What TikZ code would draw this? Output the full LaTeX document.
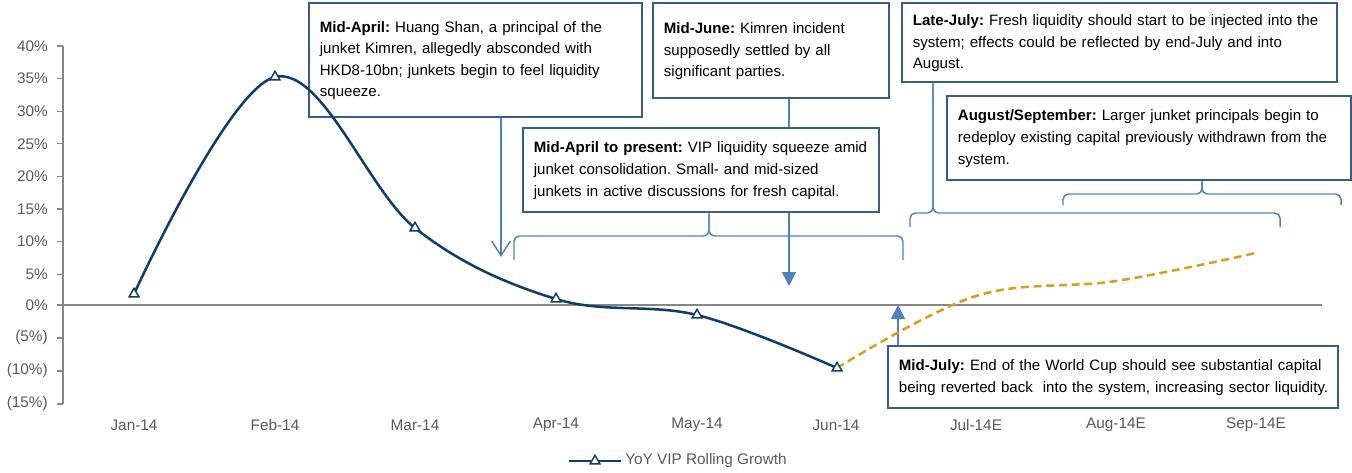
\documentclass[tikz,border=0pt]{standalone}
\usepackage{fontspec}
\setmainfont{Liberation Sans}
\usetikzlibrary{arrows.meta,shapes.geometric}

\definecolor{navy}{RGB}{18,61,105}
\definecolor{boxblue}{RGB}{56,93,138}
\definecolor{linkblue}{RGB}{79,129,189}
\definecolor{fcgold}{RGB}{214,160,30}
\definecolor{axisgrey}{RGB}{134,134,134}
\definecolor{lblgrey}{RGB}{89,89,89}

% lines of a note, kept unbroken
\newcommand{\notelines}[1]{\begin{tabular}{@{}l@{}}#1\end{tabular}}

\begin{document}
\begin{tikzpicture}[x=0.75pt,y=0.75pt,yscale=-1,xscale=1,
    note/.style={draw=boxblue, line width=1.8pt, fill=white, anchor=north west, align=left, inner xsep=8pt, inner ysep=0pt, font=\fontsize{11.3}{16.2}\selectfont\frenchspacing},
    link/.style={draw=linkblue, line width=1.1pt},
    ylbl/.style={anchor=east, inner sep=0pt, text=lblgrey, font=\fontsize{11.5}{13}\selectfont},
    xlbl/.style={inner sep=0pt, text=lblgrey, font=\fontsize{11.5}{13}\selectfont},
    mk/.style={regular polygon, regular polygon sides=3, draw=navy, fill=white, line width=1.1pt, inner sep=0pt, minimum size=8.5pt}]
    %uncomment if require: \path (0,472); %set diagram left start at 0, and has height of 472
    \useasboundingbox (0,0) rectangle (1352,472);

    %Straight Lines [axis]
    \draw [axisgrey, line width=0.8pt] (63,46) -- (63,404) ;
    \draw [axisgrey, line width=0.8pt] (63,305) -- (1322,305) ;
    %Straight Lines [ticks]
    \draw [axisgrey, line width=0.8pt] (57,46) -- (63,46) (57,78.6) -- (63,78.6) (57,111.2) -- (63,111.2) (57,143.8) -- (63,143.8) (57,176.4) -- (63,176.4) (57,209) -- (63,209) (57,241.6) -- (63,241.6) (57,274.2) -- (63,274.2) (57,305) -- (63,305) (57,338) -- (63,338) (57,371) -- (63,371) (57,404) -- (63,404) ;

    % Text Node
    \node [ylbl] (y40) at (48,46) {40\%};
    % Text Node
    \node [ylbl] (y35) at (48,78.6) {35\%};
    % Text Node
    \node [ylbl] (y30) at (48,111.2) {30\%};
    % Text Node
    \node [ylbl] (y25) at (48,143.8) {25\%};
    % Text Node
    \node [ylbl] (y20) at (48,176.4) {20\%};
    % Text Node
    \node [ylbl] (y15) at (48,209) {15\%};
    % Text Node
    \node [ylbl] (y10) at (48,241.6) {10\%};
    % Text Node
    \node [ylbl] (y05) at (48,274.2) {5\%};
    % Text Node
    \node [ylbl] (y00) at (48,305) {0\%};
    % Text Node
    \node [ylbl] (ym05) at (48,338) {(5\%)};
    % Text Node
    \node [ylbl] (ym10) at (48,371) {(10\%)};
    % Text Node
    \node [ylbl] (ym15) at (48,404) {(15\%)};

    % Text Node
    \node [xlbl] (jan) at (134,425) {Jan-14};
    % Text Node
    \node [xlbl] (feb) at (275,425) {Feb-14};
    % Text Node
    \node [xlbl] (mar) at (415,425) {Mar-14};
    % Text Node
    \node [xlbl] (apr) at (556,425) {Apr-14};
    % Text Node
    \node [xlbl] (may) at (697,425) {May-14};
    % Text Node
    \node [xlbl] (jun) at (836,425) {Jun-14};
    % Text Node
    \node [xlbl] (jul) at (976,425) {Jul-14E};
    % Text Node
    \node [xlbl] (aug) at (1116,425) {Aug-14E};
    % Text Node
    \node [xlbl] (sep) at (1256,425) {Sep-14E};

    % Text Node [boxes]
    \node [note, fill=none, minimum width=249.75pt, minimum height=85.5pt, text width=233.75pt] (midapr) at (308,2) {\notelines{\textbf{Mid-April:} Huang Shan, a principal of the\\junket Kimren, allegedly absconded with\\HKD8-10bn; junkets begin to feel liquidity\\squeeze.}};
    % Text Node
    \node [note, minimum width=177pt, minimum height=71.25pt, text width=161pt] (midjun) at (652,2) {\notelines{\textbf{Mid-June:} Kimren incident\\supposedly settled by all\\significant parties.}};
    % Text Node
    \node [note, minimum width=267pt, minimum height=63pt, text width=251pt] (midaprpres) at (522,127) {\notelines{\textbf{Mid-April to present:} VIP liquidity squeeze amid\\junket consolidation. Small- and mid-sized\\junkets in active discussions for fresh capital.}};
    % Text Node
    \node [note, minimum width=326.25pt, minimum height=59.25pt, text width=310.25pt] (latejul) at (901,2) {\notelines{\textbf{Late-July:} Fresh liquidity should start to be injected into the\\system; effects could be reflected by end-July and into\\August.}};
    % Text Node
    \node [note, minimum width=303pt, minimum height=63pt, text width=287pt] (augsep) at (946,95) {\notelines{\textbf{August/September:} Larger junket principals begin to\\redeploy existing capital previously withdrawn from the\\system.}};
    % Text Node
    \node [note, minimum width=337.5pt, minimum height=46.5pt, text width=321.5pt] (midjul) at (887,345) {\notelines{\textbf{Mid-July:} End of the World Cup should see substantial capital\\being reverted back\ \ into the system, increasing sector liquidity.}};

    % Coordinates [arrow tips and brace feet]
    \coordinate (aprtip) at (501,257);
    \coordinate (juntip) at (789,286);
    \coordinate (jultip) at (898,305);
    \coordinate (presmid) at (709,236);
    \coordinate (presleft) at (514,260);
    \coordinate (presright) at (903,260);
    \coordinate (ljmid) at (933,213);
    \coordinate (ljleft) at (910,227);
    \coordinate (ljright) at (1280,227);
    \coordinate (asmid) at (1202,194);
    \coordinate (asleft) at (1063,205);
    \coordinate (asright) at (1341,205);

    %Straight Lines
    \draw [link, -{Straight Barb[length=11pt,width=14pt]}] (midapr.south -| aprtip) -- (aprtip) ;
    %Straight Lines
    \draw [link] (midjun.south -| juntip) -- (midaprpres.north -| juntip) ;
    \draw [link, -{Triangle[length=10.5pt,width=10.5pt]}] (midaprpres.south -| juntip) -- (juntip) ;
    %Straight Lines
    \draw [link, -{Triangle[length=10.5pt,width=10.5pt]}] (midjul.north -| jultip) -- (jultip) ;
    %Brace
    \draw [link, rounded corners=4pt] (presleft) |- (presmid) -- (presmid |- midaprpres.south) ;
    \draw [link, rounded corners=4pt] (presright) |- (presmid) -- (presmid |- midaprpres.south) ;
    %Brace
    \draw [link, rounded corners=4pt] (ljleft) |- (ljmid) -- (ljmid |- latejul.south) ;
    \draw [link, rounded corners=4pt] (ljright) |- (ljmid) -- (ljmid |- latejul.south) ;
    %Brace
    \draw [link, rounded corners=4pt] (asleft) |- (asmid) -- (asmid |- augsep.south) ;
    \draw [link, rounded corners=4pt] (asright) |- (asmid) -- (asmid |- augsep.south) ;

    %Curve [forecast]
    \draw [fcgold, line width=1.9pt, dash pattern={on 6pt off 3.5pt}] plot [smooth, tension=0.6] coordinates {(837,368) (976,296) (1116,281) (1256,253)} ;
    %Curve [actual]
    \draw [navy, line width=1.9pt] plot [smooth, tension=0.6] coordinates {(134,294) (275,77) (415,228) (556,299) (697,315) (837,368)} ;
    % Markers
    \node [mk] (pjan) at (134,294) {};
    \node [mk] (pfeb) at (275,77) {};
    \node [mk] (pmar) at (415,228) {};
    \node [mk] (papr) at (556,299) {};
    \node [mk] (pmay) at (697,315) {};
    \node [mk] (pjun) at (837,368) {};

    % Legend
    \coordinate (legl) at (569,461);
    \coordinate (legr) at (621,461);
    \draw [navy, line width=1.9pt] (legl) -- (legr) ;
    \node [mk] (legmk) at (595,461) {};
    \node [xlbl, anchor=west] (legtext) at (625,461) {YoY VIP Rolling Growth};

\end{tikzpicture}
\end{document}
